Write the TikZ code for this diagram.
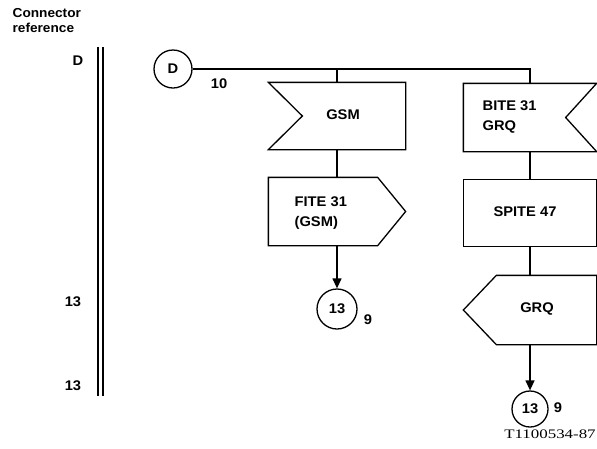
\documentclass[tikz,border=0pt]{standalone}
\usepackage{fontspec}
\setmainfont{Liberation Sans}[FakeStretch=1.05]
\newfontfamily\serifT{Liberation Serif}[FakeStretch=1.3]
\usetikzlibrary{arrows.meta}
\begin{document}
\begin{tikzpicture}[x=1pt,y=-1pt,line width=1.3pt,
  txt/.style={font=\fontsize{14}{20}\selectfont\bfseries, inner sep=0pt, align=left},
  frame/.style={draw=none, inner sep=0pt},
  conn/.style={draw, circle, inner sep=0pt, font=\fontsize{14}{15}\selectfont\bfseries},
  arr/.style={-{Triangle[length=10pt,width=9pt]}}]
\useasboundingbox (0,0) rectangle (597,448);

% header and connector reference bar
\node[txt, anchor=north west, font=\fontsize{13}{15}\selectfont\bfseries] (title) at (12,8) {Connector\\reference};
\coordinate (barAt) at (98,47); \coordinate (barAb) at (98,396);
\coordinate (barBt) at (103,47); \coordinate (barBb) at (103,396);
\draw (barAt) -- (barAb);
\draw (barBt) -- (barBb);
\node[txt] (lD) at (78,61) {D};
\node[txt] (l13a) at (73,302) {13};
\node[txt] (l13b) at (73,386) {13};

% start connector
\node[conn, minimum size=38pt] (cD) at (173,69) {D};
\node[txt] (n10) at (219,84) {10};

% left column
\node[frame, minimum width=136pt, minimum height=66pt] (gsm) at (337,116) {};
\draw (gsm.north west) -- (gsm.north east) -- (gsm.south east) -- (gsm.south west) -- ([xshift=34pt]gsm.west) -- cycle;
\node[txt] (gsmt) at (343,115) {GSM};

\node[frame, minimum width=136pt, minimum height=67pt] (fite) at (337,211.5) {};
\draw (fite.north west) -- ([xshift=-28pt]fite.north east) -- (fite.east) -- ([xshift=-28pt]fite.south east) -- (fite.south west) -- cycle;
\node[txt, anchor=west] (fitet) at (294,213) {FITE 31\\(GSM)};

\node[conn, minimum size=40pt] (c13a) at (337,309) {13};
\node[txt] (n9a) at (368,320) {9};

% right column
\node[frame, minimum width=132pt, minimum height=67pt] (bite) at (530,117.5) {};
\draw (bite.north west) -- (bite.north east) -- ([xshift=-31pt]bite.east) -- (bite.south east) -- (bite.south west) -- cycle;
\node[txt, anchor=west] (bitet) at (482,117) {BITE 31\\GRQ};

\node[frame, minimum width=132pt, minimum height=66pt] (spite) at (530,213) {};
\draw (spite.north west) rectangle (spite.south east);
\node[txt] (spitet) at (525,212) {SPITE 47};

\node[frame, minimum width=132pt, minimum height=68pt] (grq) at (530,310) {};
\draw ([xshift=33pt]grq.north west) -- (grq.north east) -- (grq.south east) -- ([xshift=33pt]grq.south west) -- (grq.west) -- cycle;
\node[txt] (grqt) at (537,309) {GRQ};

\node[conn, minimum size=36pt] (c13b) at (530,409) {13};
\node[txt] (n9b) at (558,408) {9};

% connectors
\draw (cD.east) -| (bite.north);
\draw (gsm.north) -- (gsm.north |- cD.east);
\draw (gsm.south) -- (fite.north);
\draw[arr] (fite.south) -- (c13a.north);
\draw (bite.south) -- (spite.north);
\draw (spite.south) -- (grq.north);
\draw[arr] (grq.south) -- (c13b.north);

\node[font=\serifT\fontsize{13}{15}\selectfont, inner sep=0pt] (ref) at (550,434) {T1100534-87};
\end{tikzpicture}
\end{document}
